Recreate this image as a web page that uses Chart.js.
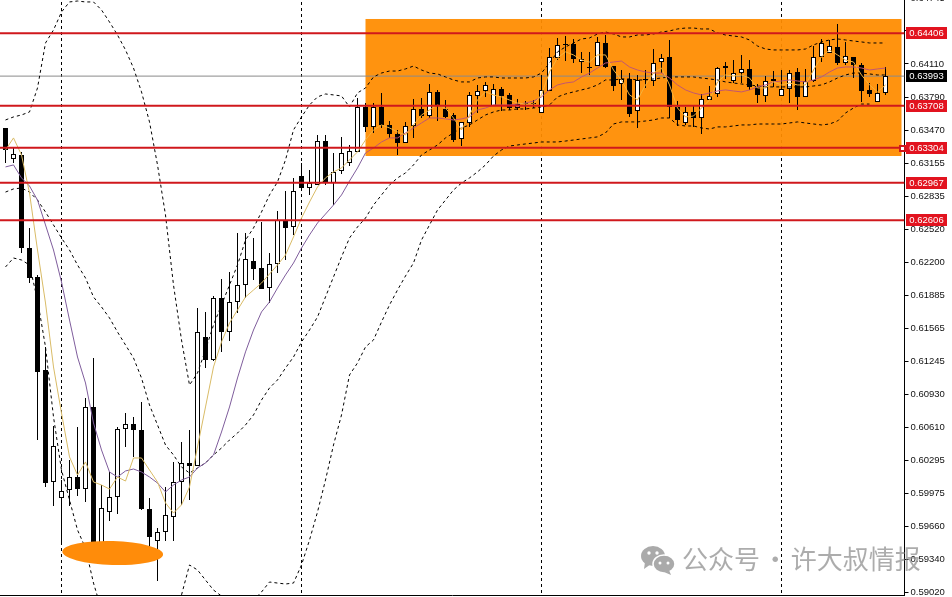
<!DOCTYPE html>
<html>
<head>
<meta charset="utf-8">
<title>Candlestick chart</title>
<script src="https://cdn.jsdelivr.net/npm/chart.js@4"></script>
<style>
    html, body { margin: 0; padding: 0; background: #fff; overflow: hidden; }
    #wrap { position: relative; width: 952px; height: 597px; overflow: hidden; }
    #chart { position: absolute; left: 0; top: -10px; }
    #watermark { position: absolute; left: 640px; top: 542px; height: 32px; white-space: nowrap;
        font: 26px "Noto Sans CJK SC"; line-height: 32px; word-spacing: -3.5px; color: rgba(140, 140, 140, 0.72); }
    #watermark svg { position: absolute; left: 0; top: 3px; }
    #watermark span { position: absolute; left: 42px; top: 0; }
</style>
</head>
<body>
<div id="wrap">
    <canvas id="chart" width="952" height="607"></canvas>
    <div id="watermark">
        <svg width="36" height="30" viewBox="0 0 36 30">
            <ellipse cx="13" cy="11" rx="12" ry="10" fill="#aaa"/>
            <path d="M5 17 L4 24 L11 19 Z" fill="#aaa"/>
            <ellipse cx="24" cy="19" rx="11" ry="9" fill="#aaa" stroke="#fff" stroke-width="1.5"/>
            <path d="M29 25 L31 30 L24 27 Z" fill="#aaa"/>
            <circle cx="9" cy="8" r="1.7" fill="#fff"/><circle cx="17" cy="8" r="1.7" fill="#fff"/>
            <circle cx="20" cy="18" r="1.5" fill="#fff"/><circle cx="28" cy="18" r="1.5" fill="#fff"/>
        </svg>
        <span>公众号 · 许大叔情报</span>
    </div>
</div>
<script>
const opens = [
    0.63494,0.63196,0.63234,0.62338,0.62060,0.61164,0.60086,0.59932,0.60009,0.60134,
    0.60018,0.60808,0.59498,0.59797,0.59942,0.60596,0.60644,0.60586,0.59826,0.59517,
    0.59605,0.59749,0.60086,0.60269,0.60240,0.61482,0.61260,0.61857,0.61530,0.61819,
    0.61982,0.62213,0.62146,0.61953,0.62184,0.62598,0.62541,0.63032,0.62916,0.62945,
    0.63368,0.62964,0.63080,0.63157,0.63263,0.63696,0.63504,0.63696,0.63523,0.63436,
    0.63349,0.63513,0.63677,0.63609,0.63841,0.63677,0.63619,0.63388,0.63542,0.63802,
    0.63850,0.63705,0.63869,0.63812,0.63686,0.63734,0.63724,0.63638,0.63850,0.64168,
    0.64302,0.64302,0.64129,0.64081,0.64090,0.64312,0.64090,0.63917,0.63966,0.63657,
    0.63966,0.63946,0.64129,0.64178,0.63696,0.63542,0.63648,0.63590,0.63763,0.63821,
    0.64071,0.63946,0.64023,0.64062,0.63898,0.63802,0.63966,0.63802,0.63869,0.64033,
    0.63793,0.63946,0.64178,0.64216,0.64274,0.64119,0.64178,0.64100,0.63860,0.63744,0.63831
];
const highs = [
    0.63494,0.63311,0.63263,0.62531,0.62079,0.61386,0.60625,0.60105,0.60298,0.60616,
    0.60894,0.61280,0.60057,0.60182,0.60616,0.60750,0.60712,0.60856,0.59932,0.59643,
    0.60038,0.60279,0.60471,0.60586,0.61761,0.61723,0.61876,0.62040,0.62108,0.62483,
    0.62483,0.62435,0.62589,0.62290,0.62694,0.62887,0.63013,0.63157,0.63090,0.63427,
    0.63427,0.63253,0.63408,0.63330,0.63783,0.63734,0.63734,0.63831,0.63561,0.63475,
    0.63552,0.63773,0.63783,0.63917,0.63860,0.63763,0.63638,0.63552,0.63841,0.63908,
    0.63937,0.63917,0.63889,0.63831,0.63773,0.63753,0.63763,0.64004,0.64264,0.64360,
    0.64379,0.64351,0.64226,0.64226,0.64370,0.64389,0.64090,0.64052,0.64023,0.64004,
    0.64052,0.64254,0.64206,0.64341,0.63753,0.63696,0.63715,0.63821,0.63898,0.64081,
    0.64129,0.64148,0.64197,0.64148,0.63917,0.63994,0.64042,0.64052,0.64052,0.64071,
    0.64062,0.64283,0.64351,0.64341,0.64495,0.64322,0.64178,0.64119,0.63927,0.63917,0.64081
];
const lows = [
    0.63157,0.63157,0.62290,0.62001,0.60490,0.60038,0.59855,0.59498,0.59855,0.59951,
    0.59894,0.59450,0.59488,0.59710,0.59777,0.60423,0.60327,0.59816,0.59460,0.59132,
    0.59517,0.59517,0.59865,0.59913,0.60240,0.61183,0.61250,0.61338,0.61443,0.61713,
    0.61857,0.62030,0.61943,0.61809,0.62098,0.62223,0.62464,0.62897,0.62849,0.62945,
    0.62945,0.62752,0.63051,0.63128,0.63263,0.63456,0.63446,0.63494,0.63398,0.63234,
    0.63349,0.63398,0.63590,0.63590,0.63561,0.63590,0.63359,0.63320,0.63504,0.63638,
    0.63793,0.63705,0.63657,0.63667,0.63667,0.63667,0.63686,0.63638,0.63850,0.64148,
    0.64138,0.64119,0.64023,0.64004,0.64090,0.64071,0.63850,0.63763,0.63600,0.63494,
    0.63879,0.63898,0.64023,0.63590,0.63513,0.63523,0.63504,0.63436,0.63763,0.63793,
    0.63966,0.63927,0.63927,0.63860,0.63734,0.63744,0.63889,0.63802,0.63734,0.63667,
    0.63793,0.63937,0.64129,0.64216,0.64100,0.64100,0.63975,0.63744,0.63793,0.63744,0.63812
];
const closes = [
    0.63282,0.63243,0.62338,0.62050,0.61145,0.60076,0.60432,0.59999,0.60134,0.60018,
    0.60808,0.59488,0.59836,0.59942,0.60596,0.60644,0.60586,0.59826,0.59557,0.59605,
    0.59768,0.60086,0.60269,0.60240,0.61530,0.61260,0.61857,0.61530,0.61819,0.61982,
    0.62232,0.62136,0.61943,0.62184,0.62608,0.62531,0.62887,0.62916,0.62964,0.63368,
    0.62974,0.63071,0.63253,0.63272,0.63696,0.63504,0.63696,0.63523,0.63436,0.63349,
    0.63513,0.63677,0.63609,0.63841,0.63715,0.63600,0.63378,0.63552,0.63812,0.63850,
    0.63908,0.63869,0.63802,0.63686,0.63724,0.63724,0.63734,0.63860,0.64178,0.64293,
    0.64293,0.64158,0.64158,0.64071,0.64322,0.64081,0.63898,0.63966,0.63628,0.63956,
    0.63956,0.64119,0.64168,0.63696,0.63571,0.63648,0.63590,0.63773,0.63802,0.64071,
    0.64090,0.64023,0.64062,0.63889,0.63812,0.63946,0.63946,0.63869,0.64023,0.63793,
    0.63946,0.64178,0.64312,0.64283,0.64119,0.64187,0.64100,0.63850,0.63821,0.63831,0.63993
];

// moving averages
const maFast = [
    0.63282,0.63398,0.63234,0.62868,0.62319,0.61809,0.61193,0.60750,0.60327,0.60153,
    0.60279,0.60086,0.60057,0.60018,0.60134,0.60095,0.60317,0.60317,0.60201,0.60086,
    0.59884,0.59787,0.59865,0.60038,0.60423,0.60808,0.61193,0.61434,0.61616,0.61742,
    0.61867,0.61934,0.62001,0.62088,0.62175,0.62271,0.62445,0.62627,0.62781,0.62926,
    0.63013,0.63071,0.63109,0.63186,0.63263,0.63378,0.63475,0.63523,0.63494,0.63456,
    0.63427,0.63523,0.63619,0.63667,0.63715,0.63686,0.63590,0.63475,0.63619,0.63763,
    0.63841,0.63812,0.63793,0.63763,0.63734,0.63724,0.63724,0.63812,0.64033,0.64168,
    0.64226,0.64197,0.64148,0.64129,0.64197,0.64197,0.64052,0.63956,0.63812,0.63763,
    0.63908,0.64023,0.64071,0.63908,0.63686,0.63600,0.63609,0.63686,0.63763,0.63937,
    0.64004,0.63994,0.64004,0.63975,0.63879,0.63879,0.63937,0.63908,0.63927,0.63908,
    0.63908,0.64052,0.64178,0.64245,0.64197,0.64148,0.64129,0.64004,0.63908,0.63841,0.63908
];
const maSlow = [
    0.63119,0.63138,0.63013,0.62935,0.62800,0.62560,0.62319,0.62011,0.61645,0.61289,
    0.61039,0.60654,0.60394,0.60182,0.60134,0.60192,0.60211,0.60182,0.60134,0.60076,
    0.59990,0.60057,0.60105,0.60134,0.60221,0.60269,0.60346,0.60567,0.60808,0.61087,
    0.61338,0.61549,0.61723,0.61819,0.61953,0.62079,0.62194,0.62338,0.62464,0.62579,
    0.62665,0.62752,0.62849,0.62983,0.63109,0.63253,0.63301,0.63359,0.63398,0.63398,
    0.63446,0.63494,0.63542,0.63590,0.63590,0.63581,0.63571,0.63581,0.63600,0.63667,
    0.63686,0.63715,0.63715,0.63715,0.63724,0.63734,0.63753,0.63793,0.63860,0.63908,
    0.63927,0.63937,0.63985,0.64023,0.64071,0.64119,0.64129,0.64138,0.64081,0.64052,
    0.64033,0.64023,0.64023,0.63975,0.63908,0.63860,0.63831,0.63812,0.63831,0.63850,
    0.63860,0.63850,0.63841,0.63860,0.63889,0.63908,0.63937,0.63946,0.63956,0.63946,
    0.63937,0.63956,0.63985,0.64033,0.64071,0.64081,0.64081,0.64071,0.64052,0.64062,0.64071
];

// bollinger bands, the parts under the window bottom are estimates
const bandUpper = [
    0.63571,0.63600,0.63619,0.63648,0.63879,0.64312,0.64437,0.64610,0.64707,0.64716,
    0.64707,0.64707,0.64630,0.64514,0.64389,0.64245,0.64071,0.63841,0.63552,0.63138,
    0.62656,0.61982,0.61453,0.61019,0.61135,0.61357,0.61597,0.61790,0.61982,0.62175,
    0.62415,0.62531,0.62685,0.62849,0.62974,0.63186,0.63475,0.63600,0.63715,0.63793,
    0.63821,0.63812,0.63802,0.63696,0.63831,0.63879,0.63985,0.64023,0.64042,0.64042,
    0.64062,0.64090,0.64052,0.64023,0.64014,0.63985,0.63956,0.63937,0.63937,0.63975,
    0.63985,0.63985,0.63975,0.63975,0.63975,0.63975,0.63985,0.64023,0.64119,0.64226,
    0.64274,0.64312,0.64351,0.64360,0.64399,0.64418,0.64399,0.64370,0.64370,0.64389,
    0.64389,0.64399,0.64418,0.64428,0.64447,0.64456,0.64456,0.64447,0.64447,0.64408,
    0.64389,0.64379,0.64370,0.64341,0.64283,0.64254,0.64245,0.64245,0.64245,0.64245,
    0.64254,0.64293,0.64322,0.64341,0.64351,0.64341,0.64331,0.64322,0.64312,0.64312,0.64312
];
const bandMiddle = [
    0.62877,0.62907,0.62916,0.62877,0.62800,0.62685,0.62560,0.62435,0.62319,0.62175,
    0.62050,0.61867,0.61771,0.61665,0.61530,0.61405,0.61280,0.61087,0.60827,0.60635,
    0.60442,0.60346,0.60230,0.60172,0.60221,0.60269,0.60346,0.60413,0.60490,0.60557,
    0.60635,0.60731,0.60875,0.60991,0.61068,0.61183,0.61289,0.61434,0.61549,0.61674,
    0.61867,0.62060,0.62252,0.62435,0.62541,0.62627,0.62752,0.62849,0.62945,0.63013,
    0.63061,0.63138,0.63234,0.63282,0.63330,0.63398,0.63446,0.63494,0.63523,0.63571,
    0.63619,0.63648,0.63667,0.63667,0.63677,0.63677,0.63686,0.63696,0.63715,0.63793,
    0.63821,0.63841,0.63860,0.63879,0.63908,0.63956,0.63956,0.63966,0.63966,0.63956,
    0.63956,0.63966,0.63975,0.63985,0.63985,0.63985,0.63985,0.63975,0.63966,0.63956,
    0.63937,0.63927,0.63917,0.63908,0.63898,0.63889,0.63889,0.63889,0.63889,0.63889,
    0.63889,0.63898,0.63908,0.63937,0.63975,0.64004,0.64023,0.64023,0.64014,0.64004,0.64004
];
const bandLower = [
    0.62156,0.62242,0.62223,0.62175,0.61838,0.61386,0.60712,0.60201,0.59913,0.59624,
    0.59450,0.59113,0.58854,0.58806,0.58757,0.58757,0.58757,0.58757,0.58757,0.58757,
    0.58757,0.58854,0.58998,0.59287,0.59239,0.59142,0.59046,0.58988,0.58950,0.58950,
    0.58950,0.58950,0.59027,0.59123,0.59113,0.59104,0.59113,0.59287,0.59527,0.59797,
    0.60105,0.60442,0.60731,0.61116,0.61232,0.61386,0.61453,0.61626,0.61790,0.61934,
    0.62069,0.62194,0.62415,0.62560,0.62704,0.62800,0.62897,0.62964,0.63013,0.63071,
    0.63138,0.63224,0.63282,0.63320,0.63330,0.63340,0.63349,0.63359,0.63359,0.63359,
    0.63368,0.63378,0.63388,0.63398,0.63408,0.63446,0.63532,0.63552,0.63552,0.63552,
    0.63561,0.63571,0.63590,0.63590,0.63523,0.63513,0.63513,0.63494,0.63484,0.63504,
    0.63504,0.63513,0.63523,0.63523,0.63532,0.63532,0.63532,0.63532,0.63542,0.63552,
    0.63542,0.63532,0.63523,0.63532,0.63561,0.63638,0.63686,0.63724,0.63724,null,null
];

const priceTicks = [0.64745,0.64430,0.64110,0.63790,0.63470,0.63155,0.62835,0.62520,0.62200,0.61885,
    0.61565,0.61245,0.60930,0.60610,0.60295,0.59975,0.59660,0.59340,0.59020];
const periodMarks = [7, 37, 67, 97];
const levels = [0.64406, 0.63708, 0.63304, 0.62967, 0.62606];
const lastPrice = 0.63993;

// orange range box: first/last candle slot, price top/bottom
const zoneSlots = [45, 112];
const zonePrices = [0.64543, 0.63224];
// hand drawn blob under the low: centre slot, centre price, half width in slots, half height in price
const blob = [13.4, 0.59402, 6.3, 0.00115];

const RED = '#d0181c';
const xMin = -0.6875, xMax = 112.375;
const toPoints = arr => arr.map((y, i) => ({ x: i, y: y }));
const flatLine = y => [{ x: xMin, y: y }, { x: xMax, y: y }];
const inZone = (c, color) => c.p0.parsed.x >= zoneSlots[0] ? color : undefined;

function lineSet(data, color, order, extra) {
    return Object.assign({
        type: 'line', data: data, borderColor: color, borderWidth: 1,
        pointRadius: 0, tension: 0, order: order
    }, extra || {});
}

const datasets = [
    lineSet(flatLine(lastPrice), '#8a8a8a', 6),
    {
        label: 'wicks', type: 'bar', grouped: false, order: 5, barThickness: 1,
        data: lows.map((l, i) => ({ x: i, y: [l, highs[i]] })),
        backgroundColor: '#000', inflateAmount: 0
    },
    {
        label: 'bodies', type: 'bar', grouped: false, order: 4, barThickness: 5, minBarLength: 1,
        data: opens.map((o, i) => ({ x: i, y: [o, closes[i]] })),
        backgroundColor: opens.map((o, i) => closes[i] < o ? '#000' : '#fff'),
        borderColor: '#000', borderWidth: 1, borderSkipped: false, inflateAmount: 0
    },
    lineSet(toPoints(bandUpper), '#000', 3, { borderDash: [3, 3] }),
    lineSet(toPoints(bandMiddle), '#000', 3, { borderDash: [3, 3] }),
    lineSet(toPoints(bandLower), '#000', 3, { borderDash: [3, 3] }),
    lineSet(toPoints(maFast), '#d9bb66', 2, { segment: { borderColor: c => inZone(c, '#f4b13a') } }),
    lineSet(toPoints(maSlow), '#7f5d9c', 2, { segment: { borderColor: c => inZone(c, '#c2566f') } })
];
levels.forEach(level => datasets.push(lineSet(flatLine(level), RED, 1, { borderWidth: 2 })));

// orange box goes under the candles, blob and price tags on top
const decorations = {
    id: 'decorations',
    beforeDatasetsDraw(chart) {
        const { ctx, scales: { x, y } } = chart;
        const left = x.getPixelForValue(zoneSlots[0]), right = x.getPixelForValue(zoneSlots[1]);
        const top = y.getPixelForValue(zonePrices[0]), bottom = y.getPixelForValue(zonePrices[1]);
        ctx.save();
        ctx.fillStyle = 'rgba(255, 140, 0, 0.94)';
        ctx.fillRect(left, top, right - left, bottom - top);
        ctx.restore();
    },
    afterDatasetsDraw(chart) {
        const { ctx, scales: { x, y } } = chart;
        const cx = x.getPixelForValue(blob[0]), cy = y.getPixelForValue(blob[1]);
        const rx = x.getPixelForValue(blob[0] + blob[2]) - cx;
        const ry = y.getPixelForValue(blob[1] - blob[3]) - cy;
        ctx.save();
        ctx.fillStyle = '#ff8c0a';
        ctx.beginPath();
        ctx.ellipse(cx, cy, rx, ry, 0.03, 0, Math.PI * 2);
        ctx.fill();
        ctx.restore();
    },
    afterDraw(chart) {
        const { ctx, scales: { x, y } } = chart;
        const tag = (price, color) => {
            const py = Math.round(y.getPixelForValue(price));
            ctx.fillStyle = color;
            ctx.fillRect(906, py - 6, 41, 12);
            ctx.fillStyle = '#fff';
            ctx.font = '9.5px "Liberation Sans"';
            ctx.textAlign = 'center';
            ctx.textBaseline = 'middle';
            ctx.fillText(price.toFixed(5), 926.5, py + 0.5);
        };
        ctx.save();
        levels.forEach(level => tag(level, '#e2131f'));
        tag(lastPrice, '#000');
        // anchor square of the box
        const sx = Math.round(x.getPixelForValue(zoneSlots[1])), sy = Math.round(y.getPixelForValue(levels[2]));
        ctx.fillStyle = RED;
        ctx.fillRect(sx - 3, sy - 3, 7, 7);
        ctx.fillStyle = '#fff';
        ctx.fillRect(sx - 1, sy - 1, 3, 3);
        ctx.restore();
    }
};

new Chart(document.getElementById('chart'), {
    data: { datasets: datasets },
    options: {
        responsive: false,
        animation: false,
        devicePixelRatio: 1,
        layout: { padding: 0 },
        plugins: { legend: { display: false }, tooltip: { enabled: false } },
        scales: {
            x: {
                type: 'linear',
                min: xMin,
                max: xMax,
                offset: false,
                afterFit(scale) {
                    scale.height = 2;
                    scale.paddingLeft = scale.paddingRight = 0;
                },
                afterBuildTicks(scale) { scale.ticks = periodMarks.map(v => ({ value: v })); },
                ticks: { display: false },
                grid: { offset: false, color: '#000', lineWidth: 1, drawTicks: false, tickLength: 0 },
                border: { color: '#000', width: 1, dash: [3, 3] }
            },
            y: {
                position: 'right',
                min: 0.58998,
                max: 0.64822,
                afterFit(scale) {
                    scale.width = 47.5;
                    scale.paddingTop = scale.paddingBottom = 0;
                },
                afterBuildTicks(scale) { scale.ticks = priceTicks.map(v => ({ value: v })); },
                ticks: {
                    autoSkip: false,
                    padding: 2,
                    color: '#111',
                    font: { family: 'Liberation Sans', size: 9.5 },
                    callback: v => v.toFixed(5)
                },
                grid: { drawOnChartArea: false, color: '#000', tickLength: 4 },
                border: { color: '#000', width: 1 }
            }
        }
    },
    plugins: [decorations]
});
</script>
</body>
</html>
